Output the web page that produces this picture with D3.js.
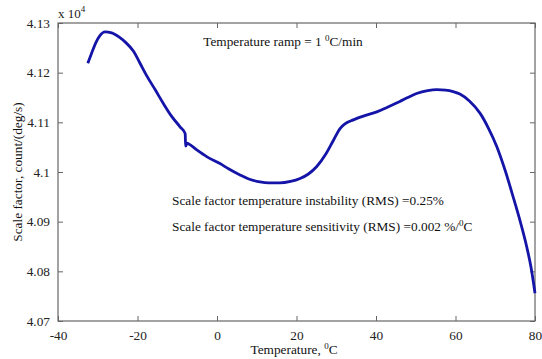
<!DOCTYPE html>
<html><head><meta charset="utf-8">
<script src="https://cdn.jsdelivr.net/npm/d3@7"></script>
<style>
body{margin:0;background:#fff;}
svg text{font-family:"Liberation Serif","Times New Roman",Times,"DejaVu Serif",serif !important;}
</style></head>
<body><svg id="c" width="542" height="359"></svg>
<script>
// Temperature (°C)
const temps = [-32.5,-31.5,-30.5,-29.5,-28.2,-26.5,-24.5,-23,-21,-19.5,-17.7,-15.5,-13.5,-11.5,-9.3,-8.0,-7.9,-7.5,-7.2,-5,-2.6,0.75,3,5.8,8,10.8,13,15.8,18.5,20.9,23,25.1,27.3,29.3,31,32.2,34.3,37,40.2,43,46,48,50.2,53,55.3,57.5,59.4,61.1,63.5,66.2,68.3,70.4,72.5,74.5,76.3,77.9,79,80];
// Scale factor (x10^4 count/(deg/s))
const values = [4.1219,4.1240,4.1260,4.1274,4.1282,4.1280,4.1271,4.1261,4.1243,4.1221,4.1194,4.1165,4.1138,4.1113,4.1091,4.1077,4.1052,4.1058,4.1057,4.1044,4.1031,4.1017,4.1006,4.0994,4.0986,4.0980,4.0978,4.0978,4.0981,4.0987,4.0996,4.1011,4.1035,4.1064,4.1088,4.1097,4.1105,4.1113,4.1121,4.1131,4.1142,4.1150,4.1158,4.1164,4.1166,4.1165,4.1162,4.1157,4.1143,4.1118,4.1088,4.1051,4.1003,4.0950,4.0900,4.0850,4.0808,4.0756];
const xTicks = [-40,-20,0,20,40,60,80];
const xTickLabels = ["-40","-20","0","20","40","60","80"];
const yTicks = [4.07,4.08,4.09,4.1,4.11,4.12,4.13];
const yTickLabels = ["4.07","4.08","4.09","4.1","4.11","4.12","4.13"];

const svg = d3.select("#c");
const L=58, R=535, T=23, B=321;
const x = d3.scaleLinear().domain([-40,80]).range([L,R]);
const y = d3.scaleLinear().domain([4.07,4.13]).range([B,T]);
const axisCol = "#666";
const fs = 13.3;

// box
svg.append("rect").attr("x",L).attr("y",T).attr("width",R-L).attr("height",B-T)
  .attr("fill","none").attr("stroke",axisCol).attr("stroke-width",1.2);

// axes (ticks inward)
const gx = svg.append("g").attr("transform",`translate(0,${B})`)
  .call(d3.axisBottom(x).tickValues(xTicks).tickSizeInner(-5).tickSizeOuter(0).tickPadding(10)
    .tickFormat((d,i)=>xTickLabels[i]));
const gxt = svg.append("g").attr("transform",`translate(0,${T})`)
  .call(d3.axisTop(x).tickValues(xTicks).tickSizeInner(-5).tickSizeOuter(0).tickFormat(""));
const gy = svg.append("g").attr("transform",`translate(${L},0)`)
  .call(d3.axisLeft(y).tickValues(yTicks).tickSizeInner(-5).tickSizeOuter(0).tickPadding(8)
    .tickFormat((d,i)=>yTickLabels[i]));
const gyr = svg.append("g").attr("transform",`translate(${R},0)`)
  .call(d3.axisRight(y).tickValues(yTicks).tickSizeInner(-5).tickSizeOuter(0).tickFormat(""));
[gx,gxt,gy,gyr].forEach(g=>{
  g.select(".domain").remove();
  g.attr("font-family",null);
  g.selectAll("line").attr("stroke",axisCol);
  g.selectAll("text").attr("fill","#222").attr("font-size",fs);
});

// curve
const pts = temps.map((t,i)=>[t,values[i]]);
svg.append("path").datum(pts)
  .attr("fill","none").attr("stroke","#1414a8").attr("stroke-width",2.8).attr("stroke-linejoin","round")
  .attr("d",d3.line().x(d=>x(d[0])).y(d=>y(d[1])).curve(d3.curveMonotoneX));

// multiplier
const mt = svg.append("text").attr("x",L).attr("y",18).attr("font-size",13).attr("fill","#222");
mt.append("tspan").text("x 10");
mt.append("tspan").attr("dy",-6).attr("font-size",9).text("4");

// annotations with superscripts
function supText(xp,yp,parts,anchor){
  const t = svg.append("text").attr("x",xp).attr("y",yp).attr("font-size",fs).attr("fill","#111")
    .attr("text-anchor",anchor||"start");
  let shift = 0;
  parts.forEach(p=>{
    const ts = t.append("tspan").text(p.s);
    if(p.sup){ ts.attr("dy",-5).attr("font-size",9); shift = 5; }
    else if(shift){ ts.attr("dy",shift); shift = 0; }
  });
  return t;
}
supText(283,46,[{s:"Temperature ramp = 1 "},{s:"0",sup:true},{s:"C/min"}],"middle");
supText(172,205,[{s:"Scale factor temperature instability (RMS) =0.25%"}]);
supText(172,231,[{s:"Scale factor temperature sensitivity (RMS) =0.002 %/"},{s:"0",sup:true},{s:"C"}]);
supText(294,354,[{s:"Temperature, "},{s:"0",sup:true},{s:"C"}],"middle");

svg.append("text").attr("transform",`translate(22,${(T+B)/2}) rotate(-90)`)
  .attr("text-anchor","middle").attr("font-size",fs).attr("fill","#111")
  .text("Scale factor, count/(deg/s)");
</script></body></html>
